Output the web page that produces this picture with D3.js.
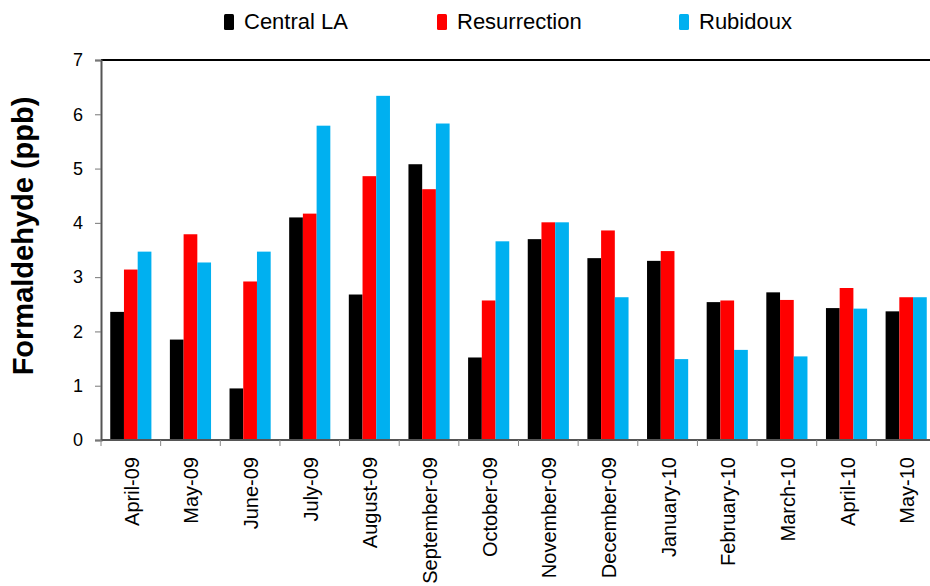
<!DOCTYPE html>
<html>
<head>
<meta charset="utf-8">
<script src="https://cdn.jsdelivr.net/npm/d3@7"></script>
<style>
  html, body { margin: 0; padding: 0; background: #fff; }
  svg { display: block; font-family: "Liberation Sans", Arial, sans-serif; }
</style>
</head>
<body>
<svg id="chart" width="930" height="586"></svg>
<script>
// Monthly formaldehyde concentrations (ppb) at three monitoring sites
const months = ["April-09", "May-09", "June-09", "July-09", "August-09", "September-09",
  "October-09", "November-09", "December-09", "January-10", "February-10", "March-10",
  "April-10", "May-10"];
const seriesNames = ["Central LA", "Resurrection", "Rubidoux"];
const centralLA    = [2.36, 1.85, 0.95, 4.10, 2.68, 5.08, 1.52, 3.70, 3.35, 3.30, 2.54, 2.72, 2.43, 2.37];
const resurrection = [3.14, 3.79, 2.92, 4.17, 4.86, 4.62, 2.57, 4.01, 3.86, 3.48, 2.57, 2.58, 2.80, 2.63];
const rubidoux     = [3.47, 3.27, 3.47, 5.79, 6.34, 5.83, 3.66, 4.01, 2.63, 1.49, 1.66, 1.54, 2.42, 2.63];
const yTicks = [0, 1, 2, 3, 4, 5, 6, 7];
const colors = ["#000000", "#ff0000", "#00b0f0"];

const seriesValues = [centralLA, resurrection, rubidoux];

const svg = d3.select("#chart");
const plot = { left: 101, top: 60, right: 936, bottom: 440 };

const x = d3.scaleBand().domain(months).range([plot.left, plot.right]).paddingInner(0.31).paddingOuter(0.155);
const xs = d3.scaleBand().domain(seriesNames).range([0, x.bandwidth()]);
const y = d3.scaleLinear().domain([0, 7]).range([plot.bottom, plot.top]);

// Bars
const groups = svg.append("g").selectAll("g")
  .data(months)
  .join("g")
  .attr("transform", d => `translate(${x(d)},0)`);

groups.selectAll("rect")
  .data((m, i) => seriesNames.map((s, k) => ({ s, k, v: seriesValues[k][i] })))
  .join("rect")
  .attr("x", d => xs(d.s))
  .attr("width", xs.bandwidth())
  .attr("y", d => y(d.v))
  .attr("height", d => y(0) - y(d.v))
  .attr("fill", d => colors[d.k]);

// Plot frame: top border
svg.append("line")
  .attr("x1", plot.left).attr("x2", plot.right)
  .attr("y1", plot.top).attr("y2", plot.top)
  .attr("stroke", "#000").attr("stroke-width", 2);

// Y axis
const yAxis = svg.append("g")
  .attr("transform", `translate(${plot.left},0)`)
  .call(d3.axisLeft(y).tickValues(yTicks).tickFormat(d3.format("d")).tickSize(6).tickPadding(12));
yAxis.select(".domain").attr("stroke", "#555").attr("stroke-width", 2);
yAxis.selectAll(".tick line").attr("stroke", "#777");
yAxis.selectAll(".tick text").attr("font-size", 18).attr("fill", "#000")
  .attr("font-family", "'Liberation Sans', Arial, sans-serif");

// X axis: ticks at category boundaries
const xAxisG = svg.append("g");
xAxisG.append("line")
  .attr("x1", plot.left).attr("x2", plot.right)
  .attr("y1", plot.bottom).attr("y2", plot.bottom)
  .attr("stroke", "#555").attr("stroke-width", 2);
const boundaries = d3.range(months.length + 1).map(i => plot.left + i * (plot.right - plot.left) / months.length);
xAxisG.selectAll(".bt").data(boundaries).join("line")
  .attr("class", "bt")
  .attr("x1", d => d).attr("x2", d => d)
  .attr("y1", plot.bottom).attr("y2", plot.bottom + 6)
  .attr("stroke", "#888").attr("stroke-width", 1);

xAxisG.selectAll(".xl").data(months).join("text")
  .attr("class", "xl")
  .attr("transform", d => `translate(${x(d) + x.bandwidth() / 2 + 8},${plot.bottom + 17}) rotate(-90)`)
  .attr("text-anchor", "end")
  .attr("font-size", 20)
  .attr("fill", "#000")
  .text(d => d);

// Y axis title
svg.append("text")
  .attr("transform", `translate(33,236) rotate(-90)`)
  .attr("text-anchor", "middle")
  .attr("font-size", 29)
  .attr("font-weight", "bold")
  .attr("fill", "#000")
  .text("Formaldehyde (ppb)");

// Legend
const legendX = [224, 437, 679];
const legend = svg.append("g").selectAll("g")
  .data(seriesNames)
  .join("g")
  .attr("transform", (d, i) => `translate(${legendX[i]},14)`);
legend.append("rect")
  .attr("width", 10).attr("height", 16).attr("rx", 1.5)
  .attr("fill", (d, i) => colors[i]);
legend.append("text")
  .attr("x", 20).attr("y", 15)
  .attr("font-size", 22)
  .attr("fill", "#000")
  .text(d => d);
</script>
</body>
</html>
